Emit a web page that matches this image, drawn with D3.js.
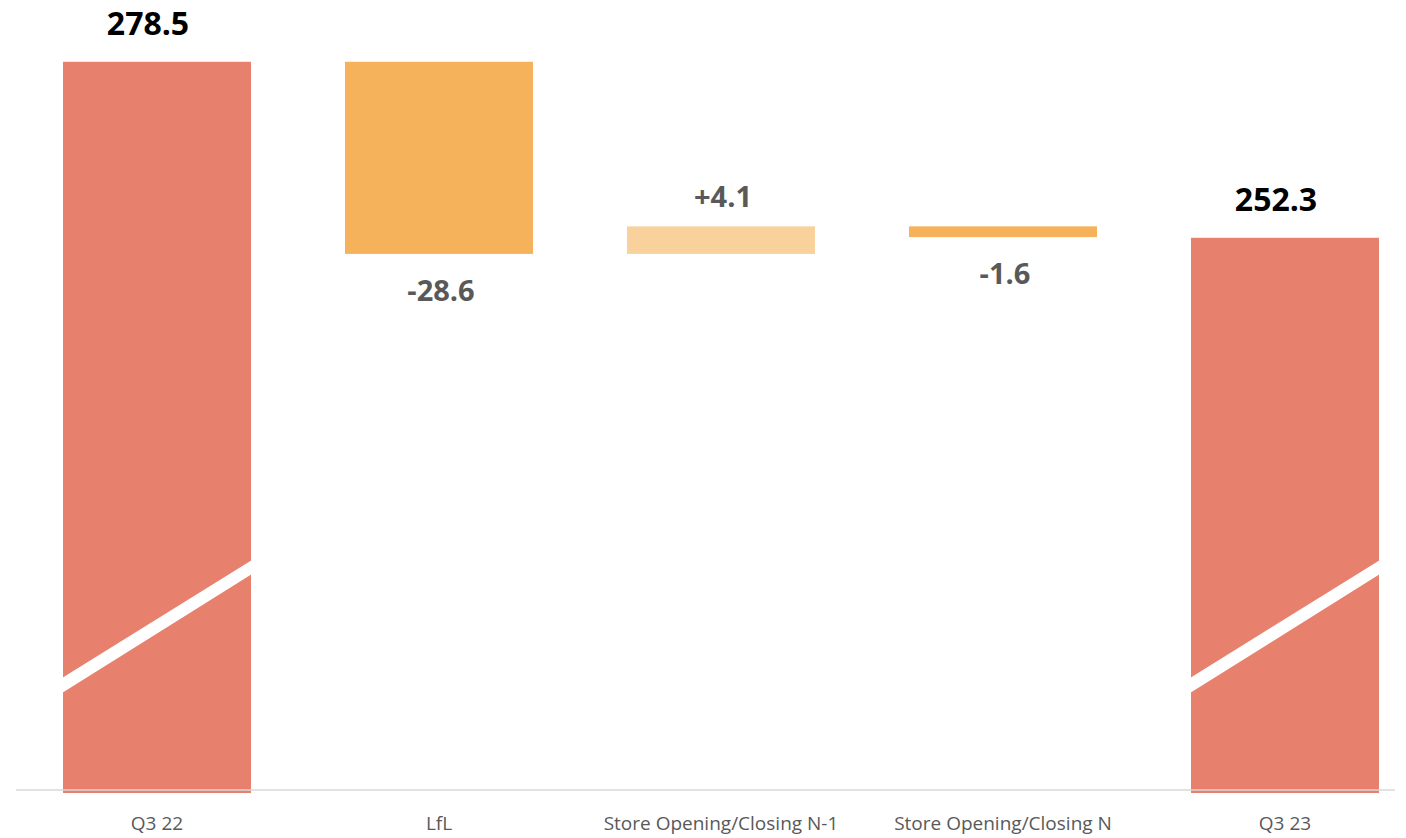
<!DOCTYPE html>
<html>
<head>
<meta charset="utf-8">
<script src="https://cdn.jsdelivr.net/npm/d3@7"></script>
<style>
  body { margin: 0; background: #fff; }
  svg { display: block; font-family: "Open Sans", sans-serif; }
</style>
</head>
<body>
<div id="chart"></div>
<script>
// waterfall data
var categories = ["Q3 22", "LfL", "Store Opening/Closing N-1", "Store Opening/Closing N", "Q3 23"];
var values = [278.5, -28.6, 4.1, -1.6, 252.3];
var kinds = ["total", "delta", "delta", "delta", "total"];
var valueLabels = ["278.5", "-28.6", "+4.1", "-1.6", "252.3"];

var width = 1406;
var height = 838;
var baseY = 790;

var colors = {
    total: "#e7806d",
    down: "#f5b25a",
    up: "#f9d19c"
};

// build start / end for every step
var running = 0;
var steps = categories.map(function (c, i) {
    var d = { cat: c, kind: kinds[i], value: values[i], label: valueLabels[i] };
    if (d.kind === "total") {
        d.start = null;
        d.end = d.value;
        running = d.value;
    } else {
        d.start = running;
        d.end = running + d.value;
        running = d.end;
    }
    return d;
});

var svg = d3.select("#chart").append("svg")
    .attr("width", width)
    .attr("height", height);

var x = d3.scaleBand()
    .domain(categories)
    .range([16, 1426])
    .paddingInner(1 / 3)
    .paddingOuter(1 / 6);

// broken axis: the bottom of the chart is not zero
var y = d3.scaleLinear()
    .domain([170.1, 280])
    .range([baseY, baseY - 109.9 * 6.718]);

var bars = svg.append("g");

steps.forEach(function (d) {
    var x0 = x(d.cat);
    var w = x.bandwidth();
    if (d.kind === "total") {
        var top = y(d.end);
        bars.append("rect")
            .attr("x", x0).attr("y", top)
            .attr("width", w).attr("height", baseY + 3 - top)
            .attr("fill", colors.total);
        // axis break stripe
        bars.append("polygon")
            .attr("points", [
                [x0 - 1, baseY - 112], [x0 + w + 1, baseY - 230],
                [x0 + w + 1, baseY - 216], [x0 - 1, baseY - 97]
            ].map(function (p) { return p.join(","); }).join(" "))
            .attr("fill", "#fff");
    } else {
        var y1 = y(Math.max(d.start, d.end));
        var y2 = y(Math.min(d.start, d.end));
        bars.append("rect")
            .attr("x", x0).attr("y", y1)
            .attr("width", w).attr("height", y2 - y1)
            .attr("fill", d.value < 0 ? colors.down : colors.up);
    }
});

// value labels
svg.append("g").selectAll("text")
    .data(steps)
    .enter().append("text")
    .attr("text-anchor", "middle")
    .attr("font-weight", "bold")
    .attr("x", function (d) {
        return x(d.cat) + x.bandwidth() / 2 + (d.kind === "total" ? -9 : 2);
    })
    .attr("y", function (d) {
        if (d.kind === "total") return y(d.end) - 27;
        if (d.value > 0) return y(d.end) - 19;
        return y(d.end) + 47;
    })
    .attr("font-size", function (d) { return d.kind === "total" ? 32 : 29; })
    .attr("fill", function (d) { return d.kind === "total" ? "#000" : "#595959"; })
    .text(function (d) { return d.label; });

// baseline
svg.append("line")
    .attr("x1", 16).attr("x2", 1395)
    .attr("y1", baseY).attr("y2", baseY)
    .attr("stroke", "#d9d9d9")
    .attr("stroke-width", 1.5);

// category axis
var xAxis = svg.append("g")
    .attr("transform", "translate(0," + baseY + ")")
    .call(d3.axisBottom(x).tickSize(0).tickPadding(27));

xAxis.select(".domain").remove();
xAxis.selectAll("text")
    .attr("font-family", "Open Sans, sans-serif")
    .attr("font-size", 19)
    .attr("fill", "#595959");
</script>
</body>
</html>
